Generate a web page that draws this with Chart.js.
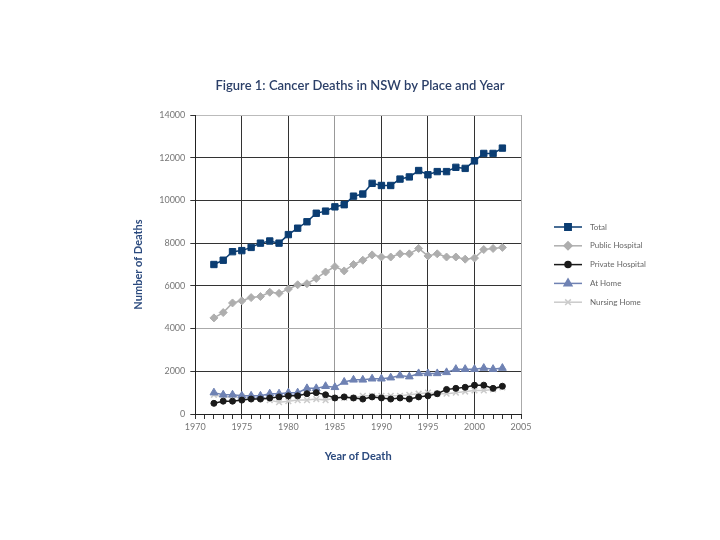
<!DOCTYPE html>
<html>
<head>
<meta charset="utf-8">
<script src="https://cdn.jsdelivr.net/npm/chart.js@4/dist/chart.umd.min.js"></script>
<style>
  html, body { margin: 0; padding: 0; background: #fff; }
  canvas { display: block; }
</style>
</head>
<body>
<canvas id="chart" width="720" height="540"></canvas>
<script>
const years = [1972, 1973, 1974, 1975, 1976, 1977, 1978, 1979, 1980, 1981, 1982, 1983, 1984, 1985, 1986, 1987,
               1988, 1989, 1990, 1991, 1992, 1993, 1994, 1995, 1996, 1997, 1998, 1999, 2000, 2001, 2002, 2003];

const total = [7000, 7200, 7600, 7650, 7800, 8000, 8100, 8000, 8400, 8700, 9000, 9400, 9500, 9700, 9800, 10200,
               10300, 10800, 10700, 10700, 11000, 11100, 11400, 11200, 11350, 11350, 11550, 11500, 11850, 12200, 12200, 12450];
const publicHospital = [4500, 4750, 5200, 5300, 5450, 5500, 5700, 5650, 5850, 6050, 6100, 6350, 6650, 6900, 6700, 7000,
                        7200, 7450, 7350, 7350, 7500, 7500, 7750, 7400, 7500, 7350, 7350, 7250, 7300, 7700, 7750, 7800];
const privateHospital = [500, 600, 600, 650, 700, 700, 750, 800, 850, 850, 950, 1000, 900, 750, 800, 750,
                         700, 800, 750, 700, 750, 700, 800, 850, 950, 1150, 1200, 1250, 1350, 1350, 1200, 1300];
const atHome = [1000, 900, 900, 850, 850, 850, 950, 950, 1000, 1000, 1200, 1200, 1300, 1250, 1500, 1600,
                1600, 1650, 1650, 1700, 1800, 1750, 1900, 1900, 1900, 1950, 2100, 2100, 2100, 2150, 2100, 2150];
const nursingHome = [900, 800, 800, 800, 750, 750, 650, 550, 600, 650, 650, 700, 650, 750, 750, 750,
                     850, 850, 850, 850, 850, 900, 950, 1000, 950, 950, 1000, 1050, 1100, 1100, 1150, 1250];

const xMin = 1970, xMax = 2005;
const yMin = 0, yMax = 14000, yStep = 2000;
const titleText = "Figure 1: Cancer Deaths in NSW by Place and Year";

function pts(values) {
  return values.map((v, i) => ({ x: years[i], y: v }));
}

function series(label, values, color, style, radius) {
  return {
    label: label,
    data: pts(values),
    borderColor: color,
    backgroundColor: color,
    borderWidth: 1.5,
    pointStyle: style,
    pointRadius: radius,
    pointHoverRadius: radius,
    pointBorderColor: color,
    pointBackgroundColor: color,
    pointBorderWidth: style === "crossRot" ? 1.5 : 1,
    tension: 0
  };
}

// title centred on the page, and a legend drawn as line + marker
const extras = {
  id: "extras",
  afterDraw(chart) {
    const ctx = chart.ctx;
    ctx.save();
    ctx.fillStyle = "#2b3f68";
    ctx.font = "600 13px Lato";
    ctx.textAlign = "center";
    ctx.textBaseline = "middle";
    ctx.fillText(titleText, chart.width / 2, 86);

    const x0 = chart.chartArea.right + 33;
    let y = 227;
    ctx.textAlign = "left";
    chart.data.datasets.forEach(ds => {
      ctx.strokeStyle = ds.borderColor;
      ctx.lineWidth = 1.5;
      ctx.beginPath();
      ctx.moveTo(x0, y);
      ctx.lineTo(x0 + 28, y);
      ctx.stroke();
      ctx.fillStyle = ds.borderColor;
      Chart.helpers.drawPoint(ctx, {
        pointStyle: ds.pointStyle,
        radius: ds.pointRadius,
        borderWidth: ds.pointBorderWidth
      }, x0 + 14, y);
      ctx.fillStyle = "#666";
      ctx.font = "8px Lato";
      ctx.fillText(ds.label, x0 + 36, y);
      y += 18.8;
    });
    ctx.restore();
  }
};

new Chart(document.getElementById("chart"), {
  type: "line",
  data: {
    datasets: [
      series("Total", total, "#0b3d72", "rect", 4.5),
      series("Public Hospital", publicHospital, "#aeaeae", "rectRot", 4),
      series("Private Hospital", privateHospital, "#1a1a1a", "circle", 3),
      series("At Home", atHome, "#6f82b3", "triangle", 4.5),
      series("Nursing Home", nursingHome, "#cbcbcb", "crossRot", 4)
    ]
  },
  options: {
    responsive: false,
    animation: false,
    layout: { padding: { left: 128, right: 199, top: 115, bottom: 73 } },
    plugins: {
      legend: { display: false },
      tooltip: { enabled: false },
      title: { display: false }
    },
    scales: {
      x: {
        type: "linear",
        min: xMin,
        max: xMax,
        ticks: {
          stepSize: 1,
          autoSkip: false,
          maxRotation: 0,
          color: "#777",
          font: { family: "Lato", size: 9 },
          padding: 3,
          callback: v => (v % 5 === 0 ? String(v) : "")
        },
        grid: {
          color: c => {
            const v = c.tick ? c.tick.value : 0;
            if (v === xMin) return "#222";
            if (v === xMax) return "#aaa";
            if (v === 1985) return "#999";
            return v % 5 === 0 ? "#333" : "rgba(0,0,0,0)";
          },
          tickColor: "#333",
          tickLength: 5,
          lineWidth: 1
        },
        border: { color: "#222", width: 1 },
        title: {
          display: true,
          text: "Year of Death",
          color: "#2b4a7e",
          font: { family: "Lato", size: 11, weight: "bold" },
          padding: { top: 14, bottom: 4 }
        }
      },
      y: {
        min: yMin,
        max: yMax,
        ticks: {
          stepSize: yStep,
          color: "#777",
          font: { family: "Lato", size: 9 },
          padding: 5,
          callback: v => String(v)
        },
        grid: {
          color: c => {
            const v = c.tick ? c.tick.value : 0;
            if (v === yMax) return "#bbb";
            if (v === 4000) return "#aaa";
            return "#333";
          },
          tickColor: "#333",
          tickLength: 5,
          lineWidth: 1
        },
        border: { color: "#222", width: 1 },
        title: {
          display: true,
          text: "Number of Deaths",
          color: "#2b4a7e",
          font: { family: "Lato", size: 11, weight: "bold" },
          padding: { top: 4, bottom: 9 }
        }
      }
    }
  },
  plugins: [extras]
});
</script>
</body>
</html>
